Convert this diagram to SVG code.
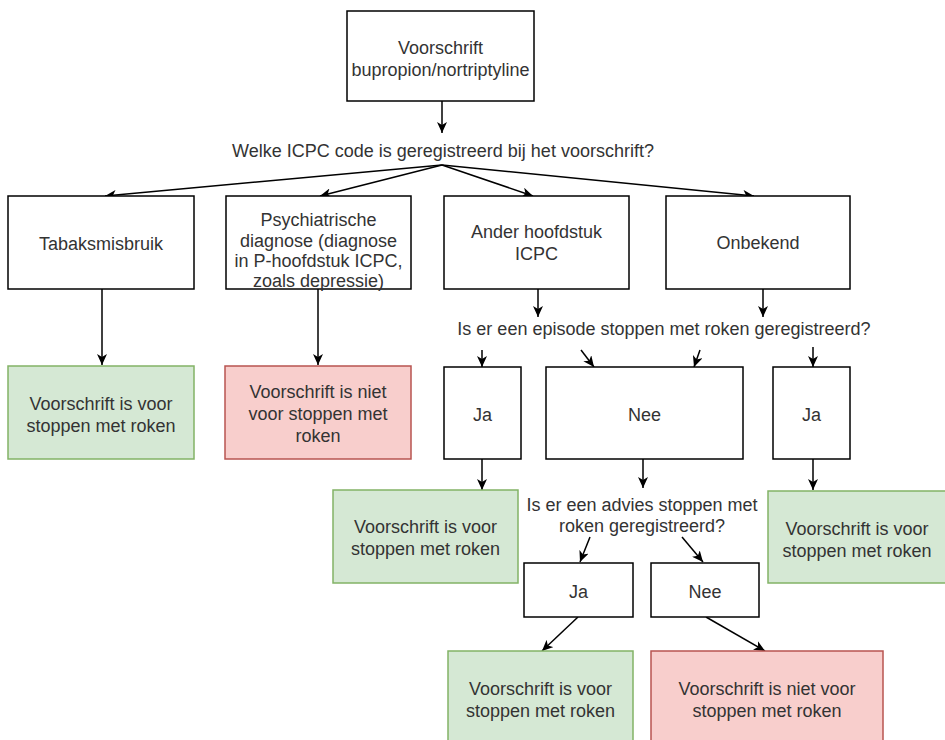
<svg xmlns="http://www.w3.org/2000/svg" width="945" height="740" viewBox="0 0 945 740">
<style>
  text { font-family: "Liberation Sans", Arial, sans-serif; font-size: 18px; fill: #333333; text-anchor: middle; }
  .box { fill: #ffffff; stroke: #000000; stroke-width: 1.5; }
  .yes { fill: #d5e8d4; stroke: #82b366; stroke-width: 1.5; }
  .no { fill: #f8cecc; stroke: #b85450; stroke-width: 1.5; }
  .edge { fill: none; stroke: #000000; stroke-width: 1.5; marker-end: url(#arrow); }
</style>
<defs>
  <marker id="arrow" markerUnits="userSpaceOnUse" markerWidth="12" markerHeight="10" refX="11" refY="5" orient="auto">
    <path d="M0,0 L11,5 L0,10 L3,5 z" fill="#000000"/>
  </marker>
</defs>
<rect x="0" y="0" width="945" height="740" fill="#ffffff"/>

<g id="connectors">
  <line class="edge" x1="442" y1="101" x2="442" y2="133"/>
  <line class="edge" x1="442" y1="165" x2="105" y2="196"/>
  <line class="edge" x1="442" y1="165" x2="320" y2="196"/>
  <line class="edge" x1="442" y1="165" x2="533" y2="196"/>
  <line class="edge" x1="442" y1="165" x2="754" y2="196"/>
  <line class="edge" x1="102" y1="289" x2="102" y2="365"/>
  <line class="edge" x1="318" y1="289" x2="318" y2="365"/>
  <line class="edge" x1="538" y1="289" x2="538" y2="317"/>
  <line class="edge" x1="763" y1="289" x2="763" y2="317"/>
  <line class="edge" x1="482" y1="350" x2="482" y2="367"/>
  <line class="edge" x1="581" y1="350" x2="594" y2="367"/>
  <line class="edge" x1="700" y1="350" x2="694" y2="367"/>
  <line class="edge" x1="813" y1="347" x2="813" y2="367"/>
  <line class="edge" x1="482" y1="459" x2="482" y2="490"/>
  <line class="edge" x1="643" y1="459" x2="643" y2="488"/>
  <line class="edge" x1="813" y1="459" x2="813" y2="490"/>
  <line class="edge" x1="590" y1="537" x2="580" y2="562"/>
  <line class="edge" x1="682" y1="537" x2="703" y2="562"/>
  <line class="edge" x1="578" y1="617" x2="542" y2="651"/>
  <line class="edge" x1="706" y1="617" x2="765" y2="651"/>
</g>

<g id="start">
  <rect class="box" x="347" y="11" width="187" height="90"/>
  <text x="440.5" y="54">Voorschrift</text>
  <text x="440.5" y="76">bupropion/nortriptyline</text>
</g>

<g id="q-icpc">
  <text x="443" y="157">Welke ICPC code is geregistreerd bij het voorschrift?</text>
</g>

<g id="tabak">
  <rect class="box" x="8" y="196" width="186" height="93"/>
  <text x="101" y="250">Tabaksmisbruik</text>
</g>

<g id="psych">
  <rect class="box" x="226" y="196" width="185" height="93"/>
  <text x="318.5" y="226">Psychiatrische</text>
  <text x="318.5" y="246.5">diagnose (diagnose</text>
  <text x="318.5" y="267">in P-hoofdstuk ICPC,</text>
  <text x="318.5" y="287">zoals depressie)</text>
</g>

<g id="ander">
  <rect class="box" x="444" y="196" width="185" height="93"/>
  <text x="536.5" y="238">Ander hoofdstuk</text>
  <text x="536.5" y="260">ICPC</text>
</g>

<g id="onbekend">
  <rect class="box" x="666" y="196" width="184" height="93"/>
  <text x="758" y="249">Onbekend</text>
</g>

<g id="res-tabak">
  <rect class="yes" x="8" y="366" width="186" height="93"/>
  <text x="101" y="410">Voorschrift is voor</text>
  <text x="101" y="432">stoppen met roken</text>
</g>

<g id="res-psych">
  <rect class="no" x="225" y="366" width="186" height="93"/>
  <text x="318" y="398">Voorschrift is niet</text>
  <text x="318" y="420">voor stoppen met</text>
  <text x="318" y="442">roken</text>
</g>

<g id="q-episode">
  <text x="664" y="335">Is er een episode stoppen met roken geregistreerd?</text>
</g>

<g id="ja1">
  <rect class="box" x="444" y="367" width="77" height="92"/>
  <text x="482.5" y="421">Ja</text>
</g>

<g id="nee1">
  <rect class="box" x="546" y="367" width="197" height="92"/>
  <text x="644.5" y="421">Nee</text>
</g>

<g id="ja2">
  <rect class="box" x="773" y="367" width="77" height="92"/>
  <text x="811.5" y="421">Ja</text>
</g>

<g id="res-ja1">
  <rect class="yes" x="333" y="490" width="185" height="93"/>
  <text x="425.5" y="533">Voorschrift is voor</text>
  <text x="425.5" y="555">stoppen met roken</text>
</g>

<g id="res-ja2">
  <rect class="yes" x="768" y="491" width="179" height="92"/>
  <text x="857" y="535">Voorschrift is voor</text>
  <text x="857" y="557">stoppen met roken</text>
</g>

<g id="q-advies">
  <text x="642" y="511">Is er een advies stoppen met</text>
  <text x="642" y="532">roken geregistreerd?</text>
</g>

<g id="ja3">
  <rect class="box" x="524" y="563" width="109" height="54"/>
  <text x="578.5" y="598">Ja</text>
</g>

<g id="nee3">
  <rect class="box" x="651" y="563" width="108" height="54"/>
  <text x="705" y="598">Nee</text>
</g>

<g id="res-ja3">
  <rect class="yes" x="448" y="651" width="185" height="95"/>
  <text x="540.5" y="695">Voorschrift is voor</text>
  <text x="540.5" y="717">stoppen met roken</text>
</g>

<g id="res-nee3">
  <rect class="no" x="651" y="651" width="232" height="95"/>
  <text x="767" y="695">Voorschrift is niet voor</text>
  <text x="767" y="717">stoppen met roken</text>
</g>
</svg>
